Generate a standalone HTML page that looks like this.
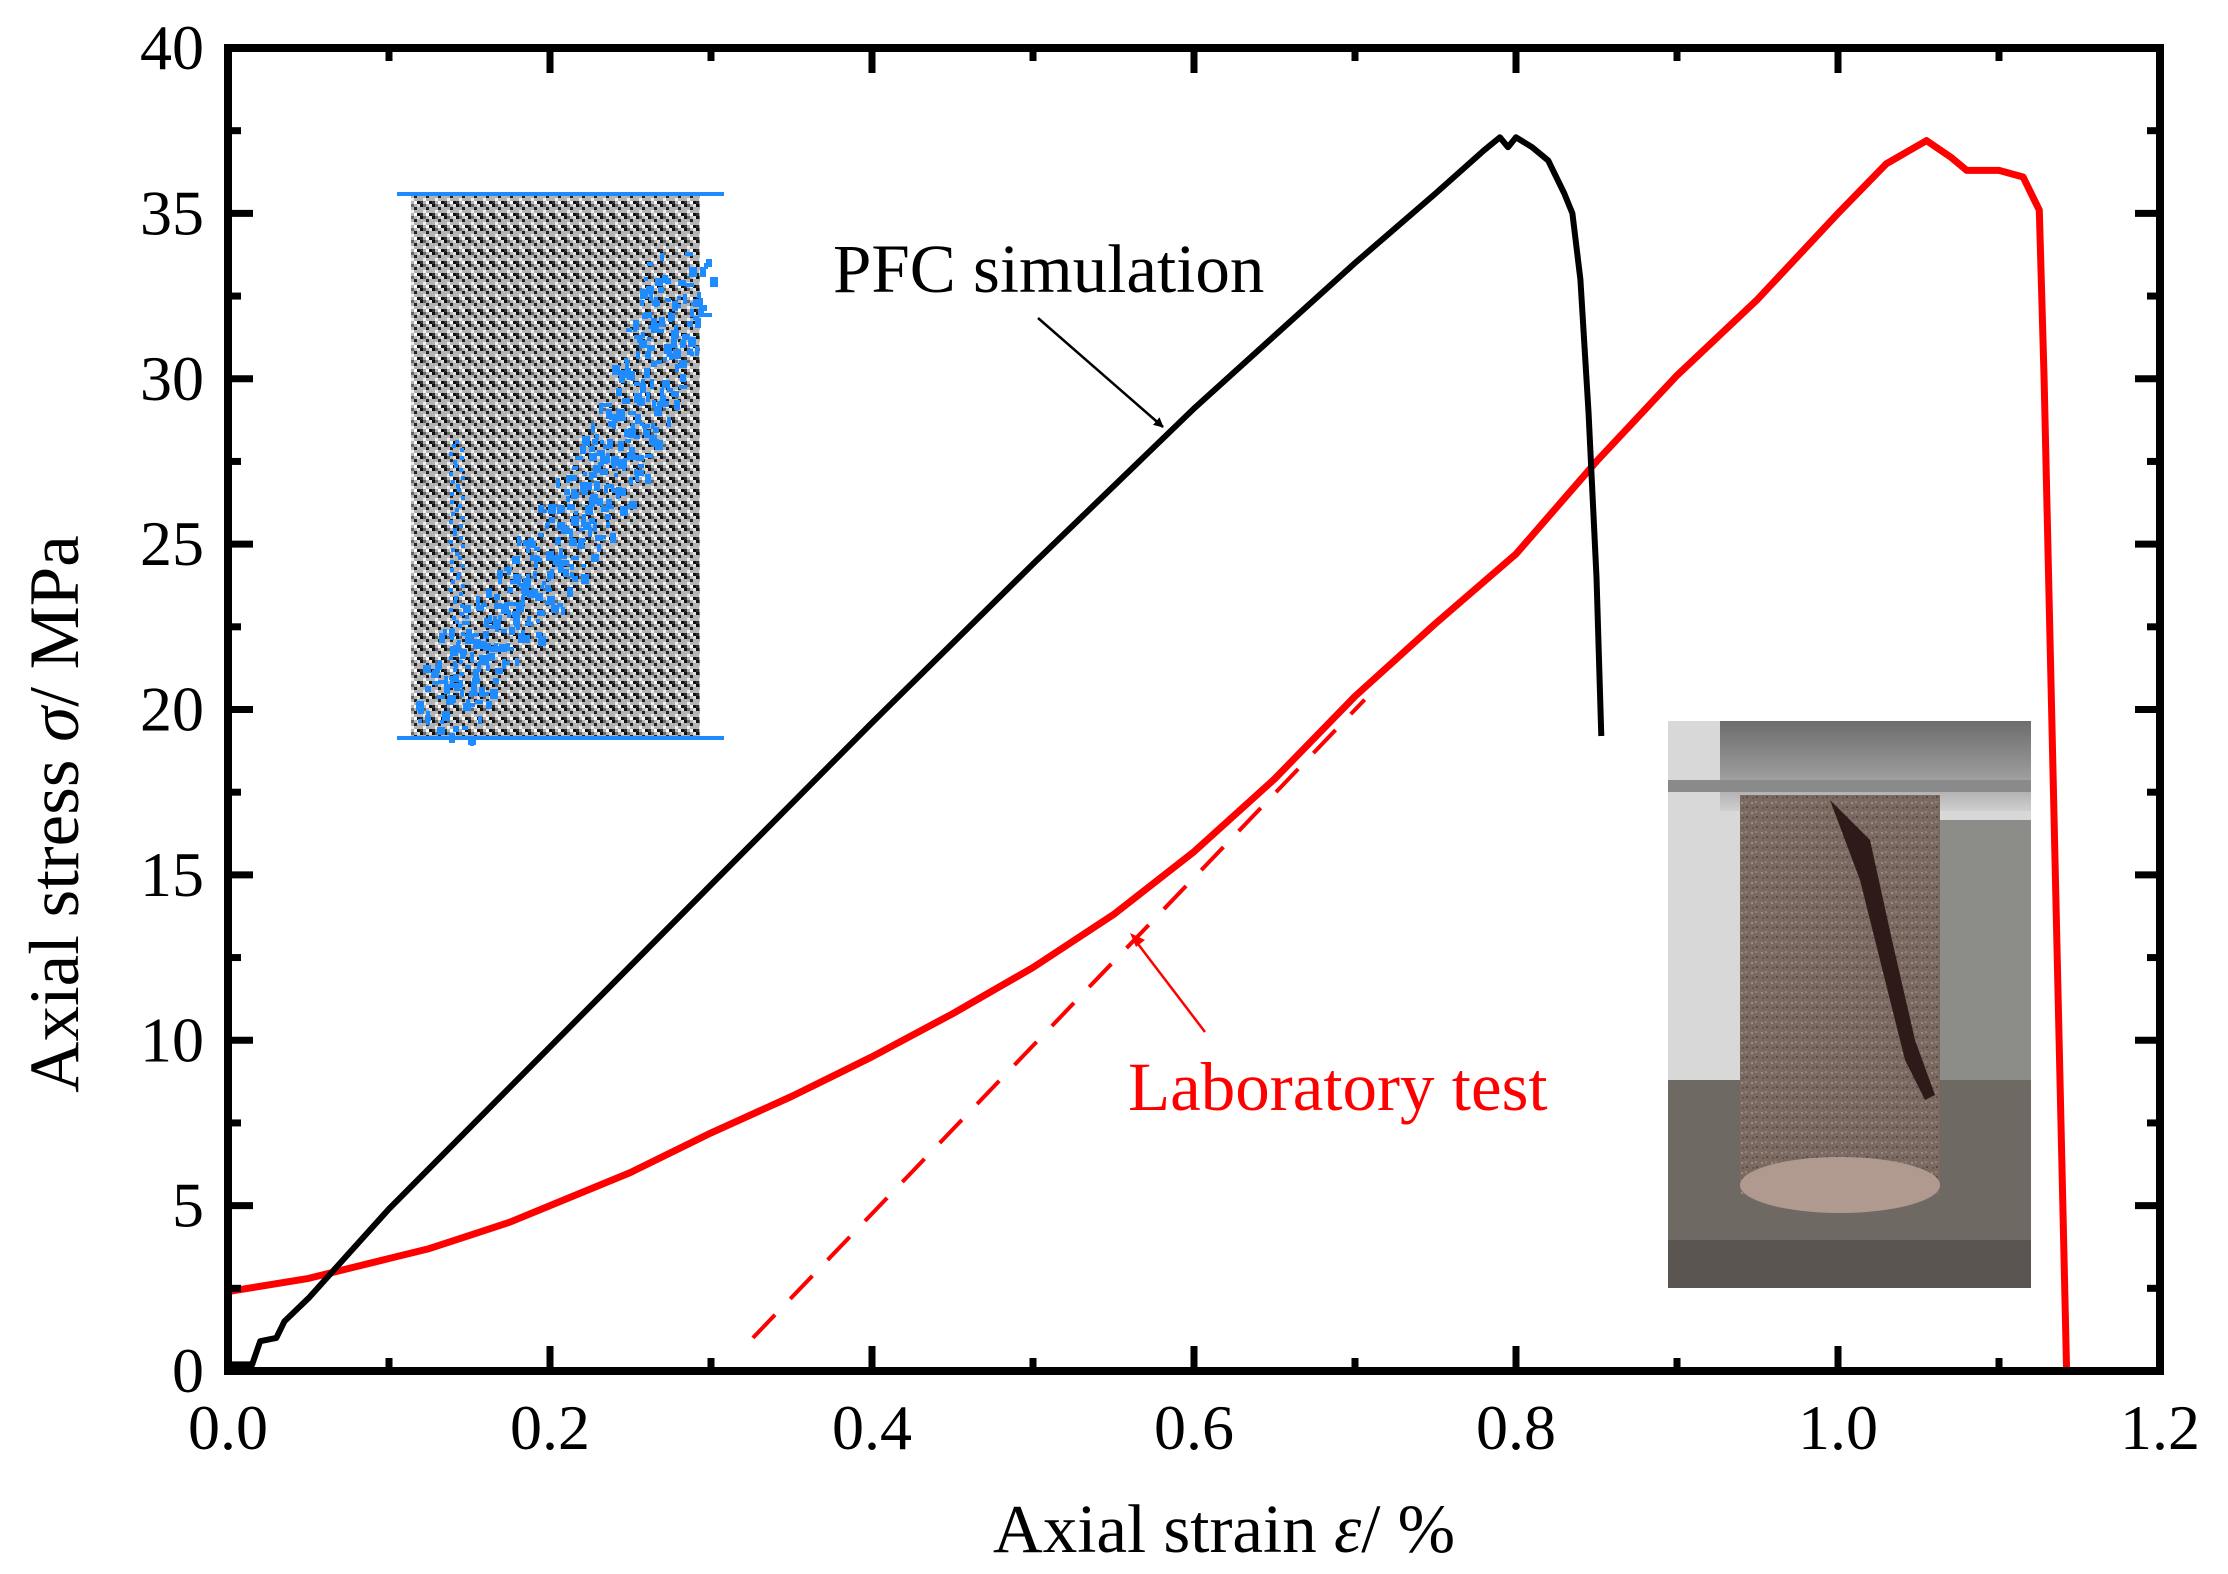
<!DOCTYPE html>
<html><head><meta charset="utf-8"><style>
html,body{margin:0;padding:0;background:#fff;}
svg{display:block;font-family:"Liberation Serif","Times New Roman",serif;}
</style></head><body>
<svg id="chart" width="2228" height="1574" viewBox="0 0 2228 1574" xmlns="http://www.w3.org/2000/svg">
<defs>
<pattern id="noise" width="12" height="12" patternUnits="userSpaceOnUse">
<rect width="12" height="12" fill="#b4b4b4"/>
<rect x="0" y="0" width="3" height="3" fill="#111"/><rect x="6" y="3" width="3" height="3" fill="#222"/>
<rect x="3" y="6" width="3" height="3" fill="#eee"/><rect x="9" y="9" width="3" height="3" fill="#111"/>
<rect x="9" y="0" width="3" height="3" fill="#ddd"/><rect x="0" y="9" width="3" height="3" fill="#333"/>
<rect x="6" y="9" width="3" height="3" fill="#fff"/><rect x="3" y="0" width="3" height="3" fill="#666"/>
</pattern>
<pattern id="grain" width="10" height="10" patternUnits="userSpaceOnUse">
<rect width="10" height="10" fill="#7a6a62"/>
<rect x="1" y="2" width="2" height="2" fill="#a08a80"/><rect x="6" y="6" width="2" height="2" fill="#5a4a44"/>
<rect x="5" y="1" width="2" height="2" fill="#938078"/><rect x="2" y="7" width="2" height="2" fill="#665550"/>
</pattern>
<linearGradient id="plat" x1="0" y1="0" x2="0" y2="1"><stop offset="0" stop-color="#6d6d6d"/><stop offset="0.6" stop-color="#9a9a9a"/><stop offset="1" stop-color="#cfcfcf"/></linearGradient>
<marker id="ahB" markerWidth="10" markerHeight="10" refX="9" refY="5" orient="auto" markerUnits="userSpaceOnUse"><path d="M0,0 L10,5 L0,10 z" fill="#000"/></marker>
</defs>

<g>
<rect x="411" y="196" width="289" height="540" fill="url(#noise)"/>
<g id="blue" fill="#1e8cff"></g>
<line x1="397" y1="194" x2="724" y2="194" stroke="#1e8cff" stroke-width="4"/>
<line x1="397" y1="738" x2="724" y2="738" stroke="#1e8cff" stroke-width="4"/>
</g>

<g>
<rect x="1668" y="721" width="363" height="567" fill="#d8d8d8"/>
<rect x="1720" y="721" width="311" height="90" fill="url(#plat)"/>
<rect x="1668" y="780" width="363" height="12" fill="#8a8a8a"/>
<rect x="1940" y="820" width="91" height="370" fill="#8c8c88"/>
<rect x="1668" y="1080" width="363" height="208" fill="#6f6963"/>
<rect x="1740" y="795" width="200" height="400" fill="url(#grain)"/>
<ellipse cx="1840" cy="1185" rx="100" ry="28" fill="#b09a90"/>
<path d="M1830,800 L1860,880 L1880,960 L1905,1060 L1925,1100 L1935,1095 L1915,1040 L1892,940 L1870,840 Z" fill="#2e1a18"/>
<rect x="1668" y="1240" width="363" height="48" fill="#5a5550"/>
</g>

<g id="plot"></g>

<text x="833" y="292" font-size="69" fill="#000">PFC simulation</text>
<line x1="1038" y1="318" x2="1163" y2="427" stroke="#000" stroke-width="2.5" marker-end="url(#ahB)"/>
<text x="1128" y="1110" font-size="69" fill="#ff0000">Laboratory test</text>
<line x1="1205" y1="1032" x2="1135" y2="940" stroke="#ff0000" stroke-width="2.5"/>
<path d="M1130,933 L1145,940 L1136,947 Z" fill="#ff0000"/>

<text x="1224" y="1552" font-size="69" text-anchor="middle">Axial strain <tspan font-style="italic">ε</tspan>/ %</text>
<text transform="translate(78,814) rotate(-90)" font-size="71" text-anchor="middle">Axial stress <tspan font-style="italic">σ</tspan>/ MPa</text>
</svg>
<script>
const pfcStrain=[0,0.015,0.02,0.03,0.035,0.05,0.1,0.2,0.3,0.4,0.5,0.6,0.7,0.75,0.78,0.79,0.795,0.80,0.81,0.82,0.83,0.835,0.84,0.845,0.85,0.853];
const pfcStress=[0.2,0.2,0.9,1.0,1.5,2.2,4.9,9.8,14.7,19.6,24.4,29.1,33.5,35.6,36.9,37.3,37.0,37.3,37.0,36.6,35.6,35.0,33,29,24,19.2];
const labStrain=[0,0.05,0.1,0.125,0.15,0.175,0.2,0.25,0.3,0.35,0.4,0.45,0.5,0.55,0.6,0.65,0.7,0.75,0.8,0.85,0.9,0.95,1.0,1.03,1.055,1.07,1.08,1.1,1.115,1.125,1.128,1.142];
const labStress=[2.4,2.8,3.4,3.7,4.1,4.5,5.0,6.0,7.2,8.3,9.5,10.8,12.2,13.8,15.7,17.9,20.4,22.6,24.7,27.5,30.1,32.4,35.0,36.5,37.2,36.7,36.3,36.3,36.1,35.1,30,0];
const tangentStrain=[0.326,0.706];
const tangentStress=[1.0,20.3];
const xTicks=[0,0.2,0.4,0.6,0.8,1.0,1.2];
const xTickLabels=["0.0","0.2","0.4","0.6","0.8","1.0","1.2"];
const yTicks=[0,5,10,15,20,25,30,35,40];
const yTickLabels=["0","5","10","15","20","25","30","35","40"];

const X0=228,X1=2160,Y0=1371,Y1=48,XMAX=1.2,YMAX=40;
const sx=v=>X0+(X1-X0)*v/XMAX;
const sy=v=>Y0-(Y0-Y1)*v/YMAX;
const NS="http://www.w3.org/2000/svg";
const g=document.getElementById('plot');
function mk(t,a,par){const e=document.createElementNS(NS,t);for(const k in a)e.setAttribute(k,a[k]);(par||g).appendChild(e);return e;}
function pts(xs,ys){return xs.map((x,i)=>sx(x).toFixed(1)+','+sy(ys[i]).toFixed(1)).join(' ');}

// decorative crack speckles in PFC inset
const blue=document.getElementById('blue');
const crack=[[440,720],[470,650],[520,600],[560,540],[600,480],[630,420],[660,340],[680,270]];
for(let i=0;i<420;i++){
 const s=i/420*(crack.length-1),k=Math.floor(s),f=s-k;
 const a=crack[k],b=crack[Math.min(k+1,crack.length-1)];
 const cx=a[0]+(b[0]-a[0])*f+Math.sin(i*12.9898)*30, cy=a[1]+(b[1]-a[1])*f+Math.sin(i*78.233)*25;
 mk('rect',{x:cx.toFixed(0),y:cy.toFixed(0),width:4+(i%3)*2,height:4+(i%4)*2},blue);
}
for(let i=0;i<60;i++){
 mk('rect',{x:(455+Math.sin(i*3.7)*6).toFixed(0),y:(440+i*4),width:4,height:4},blue);
}

let t=mk('polyline',{points:pts(tangentStrain,tangentStress),fill:'none',stroke:'#ff0000','stroke-width':4,'stroke-dasharray':'32,22'});


let l=mk('polyline',{points:pts(labStrain,labStress),fill:'none',stroke:'#ff0000','stroke-width':7,'stroke-linejoin':'round'});


let p=mk('polyline',{points:pts(pfcStrain,pfcStress),fill:'none',stroke:'#000','stroke-width':6,'stroke-linejoin':'round'});



for(let v=0;v<=1.2001;v+=0.1){
 const major=Math.abs(v/0.2-Math.round(v/0.2))<1e-6;
 const len=major?25:13,x=sx(v);
 let a=mk('line',{x1:x,y1:Y0,x2:x,y2:Y0-len,stroke:'#000','stroke-width':7});
 
 
 let b=mk('line',{x1:x,y1:Y1,x2:x,y2:Y1+len,stroke:'#000','stroke-width':7});
 
 
}
for(let v=0;v<=40;v+=2.5){
 const major=v%5===0,len=major?25:13,y=sy(v);
 let a=mk('line',{x1:X0,y1:y,x2:X0+len,y2:y,stroke:'#000','stroke-width':7});
 
 
 let b=mk('line',{x1:X1,y1:y,x2:X1-len,y2:y,stroke:'#000','stroke-width':7});
 
 
}
xTicks.forEach((v,i)=>{
 let e=mk('text',{x:sx(v),y:1449,'font-size':64,'text-anchor':'middle'});
 e.textContent=xTickLabels[i];
 
 
});
yTicks.forEach((v,i)=>{
 let e=mk('text',{x:204,y:sy(v)+21,'font-size':64,'text-anchor':'end'});
 e.textContent=yTickLabels[i];
 
 
});
let f=mk('rect',{x:X0,y:Y1,width:X1-X0,height:Y0-Y1,fill:'none',stroke:'#000','stroke-width':8});


</script>
</body></html>
